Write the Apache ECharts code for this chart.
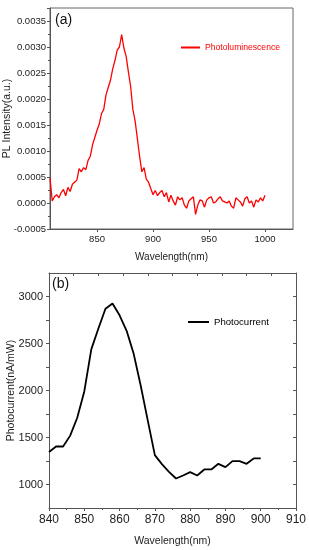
<!DOCTYPE html>
<html>
<head>
<meta charset="utf-8">
<script src="https://cdn.jsdelivr.net/npm/echarts@6/dist/echarts.min.js"></script>
<style>html,body{margin:0;padding:0;background:#fff}#c{width:309px;height:550px}</style>
</head>
<body>
<div id="c"></div>
<script>
// ---- Data: (a) photoluminescence ----
var plWavelength = [808,810,812,814,816,818,820,822,824,826,828,830,832,834,836,838,840,842,844,846,848,850,852,854,856,858,860,862,864,866,868,870,872,874,876,878,880,882,884,886,888,890,892,894,896,898,900,902,904,906,908,910,912,914,916,918,920,922,924,926,928,930,932,934,936,938,940,942,944,946,948,950,952,954,956,958,960,962,964,966,968,970,972,974,976,978,980,982,984,986,988,990,992,994,996,998,1000];
var plIntensity = [0.00048,0.00004,0.00012,0.00016,0.00010,0.00020,0.00026,0.00014,0.00030,0.00022,0.00036,0.00040,0.00044,0.00066,0.00060,0.00068,0.00064,0.00082,0.00090,0.00112,0.00126,0.00140,0.00152,0.00172,0.00180,0.00208,0.00222,0.00236,0.00258,0.00274,0.00294,0.00300,0.00324,0.00298,0.00282,0.00252,0.00224,0.00180,0.00158,0.00124,0.00090,0.00060,0.00068,0.00046,0.00040,0.00028,0.00016,0.00024,0.00014,0.00020,0.00024,0.00012,0.00020,0.00002,0.00015,0.00004,-0.00004,0.00012,0.00006,0.00010,-0.00004,-0.00010,0.00004,0.00008,0.00012,-0.00022,-0.00004,0.00006,0.00004,-0.00008,0.00006,0.00010,0.00012,0.00000,0.00002,0.00008,0.00012,0.00004,0.00002,0.00000,0.00004,-0.00006,-0.00010,0.00010,0.00006,0.00002,-0.00006,0.00008,0.00012,0.00000,0.00004,-0.00008,0.00006,0.00002,0.00010,0.00004,0.00015];

// ---- Data: (b) photocurrent ----
var pcWavelength = [840,842,844,846,848,850,852,854,856,858,860,862,864,866,868,870,872,874,876,878,880,882,884,886,888,890,892,894,896,898,900];
var pcCurrent = [1345,1404,1404,1520,1710,1990,2440,2660,2870,2926,2800,2635,2390,2050,1680,1312,1217,1135,1064,1096,1132,1096,1160,1160,1220,1185,1249,1249,1220,1277,1277];

var plName = 'Photoluminescence';
var pcName = 'Photocurrent';
var xName = 'Wavelength(nm)';
var yNameA = 'PL Intensity(a.u.)';
var yNameB = 'Photocurrent(nA/mW)';

function pairs(xs, ys){ return xs.map(function(x,i){return [x, ys[i]];}); }

var FONT = 'Liberation Sans, Arial, sans-serif';
var AX = '#555';
var chart = echarts.init(document.getElementById('c'), null, {renderer:'canvas'});
chart.setOption({
  animation: false,
  backgroundColor: '#fff',
  textStyle: {fontFamily: FONT},
  grid: [
    {left: 50, top: 8, width: 243, height: 221, show: true, borderColor: '#666', borderWidth: 1, backgroundColor: 'transparent', containLabel: false, outerBoundsMode: 'none'},
    {left: 49, top: 273, width: 247, height: 235, containLabel: false, outerBoundsMode: 'none'}
  ],
  legend: [
    {data: [plName], left: 176, top: 38, icon: 'rect', itemWidth: 19, itemHeight: 2,
     textStyle: {color: '#ff0000', fontSize: 8.6, fontFamily: FONT}, itemStyle:{color:'#ff0000'}},
    {data: [pcName], left: 183, top: 312, icon: 'rect', itemWidth: 21, itemHeight: 2,
     textStyle: {color: '#000', fontSize: 9.6, fontFamily: FONT}, itemStyle:{color:'#000'}}
  ],
  xAxis: [
    {gridIndex: 0, type: 'value', min: 808, max: 1025, splitNumber: 5,
     name: xName, nameLocation: 'middle', nameGap: 23, nameMoveOverlap: false, nameTextStyle: {fontSize: 10, color: '#222'},
     axisLine: {onZero: false, lineStyle: {color: AX}}, axisTick: {length: 3, lineStyle:{color: AX}},
     axisLabel: {fontSize: 9.5, color: '#222', margin: 5, showMinLabel: false, showMaxLabel: false,
       formatter: function(v){ return String(Math.round(v)); }},
     splitLine: {show: false}},
    {gridIndex: 1, type: 'value', min: 840, max: 910, interval: 10,
     name: xName, nameLocation: 'middle', nameGap: 28, nameMoveOverlap: false, nameTextStyle: {fontSize: 10.5, color: '#222'},
     axisLine: {onZero: false, lineStyle: {color: AX}}, axisTick: {length: 3, lineStyle:{color: AX}},
     minorTick: {show: true, splitNumber: 2, length: 2, lineStyle:{color: AX}},
     axisLabel: {fontSize: 12, color: '#222', margin: 6, formatter: function(v){ return String(Math.round(v)); }},
     splitLine: {show: false}},
    {gridIndex: 1, type: 'value', position: 'top', min: 0, max: 10, interval: 1,
     axisLine: {onZero: false, lineStyle: {color: AX}}, axisTick: {inside: true, length: 3, lineStyle:{color: AX}},
     axisLabel: {show: false}, splitLine: {show: false}}
  ],
  yAxis: [
    {gridIndex: 0, type: 'value', min: -0.0005, max: 0.00375, interval: 0.0005,
     name: yNameA, nameLocation: 'middle', nameGap: 37, nameMoveOverlap: false, nameTextStyle: {fontSize: 10.5, color: '#222'},
     axisLine: {show: true, onZero: false, lineStyle: {color: AX}}, axisTick: {show: true, length: 3, lineStyle:{color: AX}},
     minorTick: {show: true, splitNumber: 2, length: 2, lineStyle:{color: AX}},
     axisLabel: {fontSize: 9.5, color: '#222', margin: 4, showMaxLabel: false,
       formatter: function(v){ if (Math.abs(v) < 1e-9) return '0.0000'; return v.toFixed(4); }},
     splitLine: {show: false}},
    {gridIndex: 1, type: 'value', min: 750, max: 3250, interval: 250,
     name: yNameB, nameLocation: 'middle', nameGap: 32, nameMoveOverlap: false, nameTextStyle: {fontSize: 10.5, color: '#222'},
     axisLine: {show: true, onZero: false, lineStyle: {color: AX}}, axisTick: {show: true, length: 3, lineStyle:{color: AX}},
     axisLabel: {fontSize: 11, color: '#222', margin: 6, showMinLabel: false, showMaxLabel: false,
       formatter: function(v){ return (Math.round(v) % 500 === 0) ? String(Math.round(v)) : ''; }},
     splitLine: {show: false}},
    {gridIndex: 1, type: 'value', position: 'right', min: 750, max: 3250, interval: 250,
     axisLine: {show: true, onZero: false, lineStyle: {color: AX}}, axisTick: {show: true, inside: true, length: 3, lineStyle:{color: AX}},
     axisLabel: {show: false}, splitLine: {show: false}}
  ],
  series: [
    {name: plName, type: 'line', xAxisIndex: 0, yAxisIndex: 0, data: pairs(plWavelength, plIntensity),
     symbol: 'none', lineStyle: {color: '#ff0000', width: 1.3}, itemStyle: {color: '#ff0000'}},
    {name: pcName, type: 'line', xAxisIndex: 1, yAxisIndex: 1, data: pairs(pcWavelength, pcCurrent),
     symbol: 'none', lineStyle: {color: '#000', width: 1.8}, itemStyle: {color: '#000'}}
  ],
  graphic: [
    {type: 'text', left: 55, top: 13, style: {text: '(a)', fontSize: 14, fill: '#111', font: '14px Liberation Sans'}},
    {type: 'text', left: 52, top: 277, style: {text: '(b)', fontSize: 14, fill: '#111', font: '14px Liberation Sans'}}
  ]
});
</script>
</body>
</html>
